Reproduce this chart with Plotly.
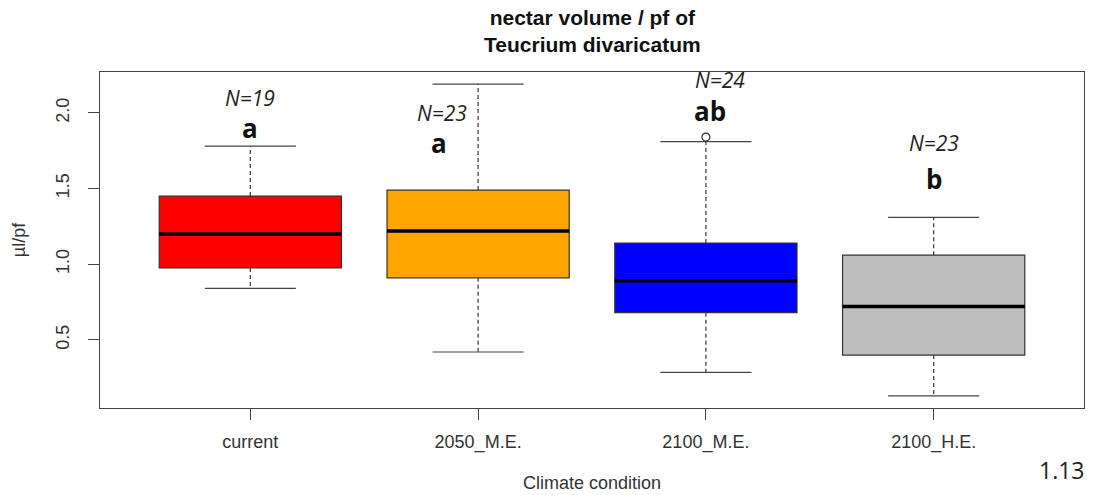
import plotly.graph_objects as go

categories = ["current", "2050_M.E.", "2100_M.E.", "2100_H.E."]
colors = ["#FF0000", "#FFA500", "#0000FF", "#BEBEBE"]
q1 = [0.975, 0.91, 0.68, 0.40]
median = [1.20, 1.22, 0.89, 0.72]
q3 = [1.45, 1.49, 1.14, 1.06]
lower_whisker = [0.84, 0.42, 0.285, 0.13]
upper_whisker = [1.78, 2.19, 1.81, 1.31]
outlier_cat = [3]
outlier_val = [1.84]
n_labels = ["N=19", "N=23", "N=24", "N=23"]
n_x = [1.0, 1.84, 3.06, 4.0]
n_y = [2.10, 2.00, 2.22, 1.80]
group_letters = ["a", "a", "ab", "b"]
letter_x = [1.0, 1.83, 3.02, 4.0]
letter_y = [1.90, 1.80, 2.01, 1.56]
y_ticks = [0.5, 1.0, 1.5, 2.0]
title_lines = ["nectar volume / pf of", "Teucrium divaricatum"]

fig = go.Figure()
pos = list(range(1, len(categories) + 1))
dash_style = "4px,3px"
for i, p in enumerate(pos):
    fig.add_trace(go.Box(
        x=[p], q1=[q1[i]], median=[median[i]], q3=[q3[i]],
        lowerfence=[q1[i]], upperfence=[q3[i]],
        width=0.8, fillcolor=colors[i],
        line=dict(color="#333333", width=1.2),
        boxpoints=False, showlegend=False, hoverinfo="skip"))
    fig.add_trace(go.Scatter(x=[p, p], y=[q3[i], upper_whisker[i]], mode="lines",
                             line=dict(color="#444444", width=1.3, dash=dash_style),
                             showlegend=False, hoverinfo="skip"))
    fig.add_trace(go.Scatter(x=[p, p], y=[q1[i], lower_whisker[i]], mode="lines",
                             line=dict(color="#444444", width=1.3, dash=dash_style),
                             showlegend=False, hoverinfo="skip"))
    for v in (upper_whisker[i], lower_whisker[i]):
        fig.add_trace(go.Scatter(x=[p - 0.2, p + 0.2], y=[v, v], mode="lines",
                                 line=dict(color="#444444", width=1.2),
                                 showlegend=False, hoverinfo="skip"))
    fig.add_trace(go.Scatter(x=[p - 0.4, p + 0.4], y=[median[i], median[i]], mode="lines",
                             line=dict(color="black", width=3.5),
                             showlegend=False, hoverinfo="skip"))

fig.add_trace(go.Scatter(x=outlier_cat, y=outlier_val, mode="markers",
                         marker=dict(symbol="circle-open", size=8, color="#333333",
                                     line=dict(width=1.2)),
                         showlegend=False, hoverinfo="skip"))

for i in range(len(categories)):
    fig.add_annotation(x=n_x[i], y=n_y[i], text="<i>" + n_labels[i] + "</i>",
                       showarrow=False, font=dict(family="Open Sans", size=21, color="#222222"))
    fig.add_annotation(x=letter_x[i], y=letter_y[i], text="<b>" + group_letters[i] + "</b>",
                       showarrow=False, font=dict(family="Open Sans", size=26, color="#111111"))

fig.add_annotation(xref="paper", yref="paper", x=1.003, y=-0.185, xanchor="right",
                   yanchor="middle", text="1.13", showarrow=False,
                   font=dict(family="Open Sans", size=23, color="#222222"))

fig.add_annotation(xref="paper", yref="paper", x=0.5, y=1.1235, xanchor="center",
                   yanchor="middle", text="<b>" + "<br>".join(title_lines) + "</b>",
                   showarrow=False,
                   font=dict(family="Liberation Sans", size=21, color="#111111"))

axis_font = dict(family="Liberation Sans", size=18, color="#333333")
fig.update_layout(
    width=1094, height=495,
    margin=dict(l=100, r=10, t=72, b=87),
    paper_bgcolor="white", plot_bgcolor="white",
    xaxis=dict(range=[0.34, 4.66], tickmode="array", tickvals=pos, ticktext=categories,
               showline=True, mirror=True, linecolor="#444444", linewidth=1.2,
               ticks="outside", ticklen=11, tickcolor="#444444", showgrid=False,
               zeroline=False, tickfont=axis_font, automargin=False,
               ticklabelstandoff=6,
               title=dict(text="Climate condition", font=axis_font, standoff=24)),
    yaxis=dict(range=[0.05, 2.27], tickmode="array", tickvals=y_ticks,
               ticktext=[f"{v:.1f}" for v in y_ticks], tickangle=-90,
               showline=True, mirror=True, linecolor="#444444", linewidth=1.2,
               ticks="outside", ticklen=11, tickcolor="#444444", showgrid=False,
               zeroline=False, tickfont=axis_font, automargin=False,
               ticklabelstandoff=12,
               title=dict(text="µl/pf", font=axis_font, standoff=22)),
)

fig.write_html("out.html")
